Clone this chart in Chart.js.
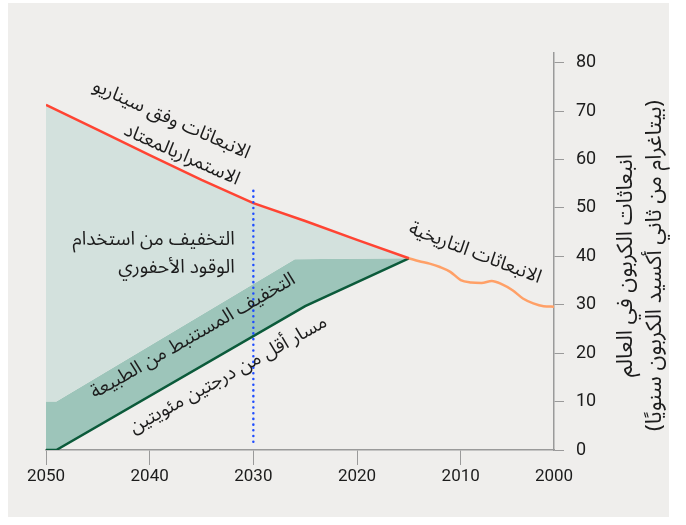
<!DOCTYPE html>
<html lang="ar">
<head>
<meta charset="utf-8">
<script src="https://cdn.jsdelivr.net/npm/chart.js@4.4.1/dist/chart.umd.min.js"></script>
<style>
  html, body { margin: 0; padding: 0; background: #fff; }
</style>
</head>
<body>
<canvas id="chart" width="686" height="525"></canvas>
<script>
// business-as-usual emissions (Gt CO2 / yr)
const bauYears = [2015, 2020, 2025, 2030, 2035, 2040, 2045, 2050];
const bauValues = [39.6, 43.4, 47.3, 51.0, 55.8, 60.9, 66.1, 71.3];

// historical emissions
const histYears = [2001, 2002, 2003, 2004, 2005, 2006, 2007, 2008, 2009, 2010, 2011, 2012, 2013, 2014, 2015];
const histValues = [29.6, 29.7, 30.3, 31.3, 33.0, 34.2, 34.9, 34.5, 34.6, 35.1, 36.8, 37.8, 38.5, 39.0, 39.6];

// top of the nature-based mitigation band
const natureYears = [2015, 2026, 2049, 2050];
const natureValues = [39.6, 39.4, 10, 10];

// below-2°C pathway
const pathYears = [2015, 2025, 2049, 2050];
const pathValues = [39.6, 29.7, 0, 0];

// 2030 marker
const markerYears = [2030, 2030];
const markerValues = [1.7, 53.6];

const xTickYears = [2050, 2040, 2030, 2020, 2010, 2001];
const xTickLabels = ["2050", "2040", "2030", "2020", "2010", "2000"];
const yTickValues = [0, 10, 20, 30, 40, 50, 60, 70, 80];

const yTitle = ["انبعاثات الكربون في العالم", "(بيتاغرام من ثاني أكسيد الكربون سنويًا)"];

const notes = [
  { text: "الانبعاثات وفق سيناريو", x: 2038.0, y: 67.8, angle: 24, align: "center" },
  { text: "الاستمراربالمعتاد", x: 2037.0, y: 60.5, angle: 24, align: "center" },
  { text: "التخفيف من استخدام", x: 2031.8, y: 42.9, angle: 0, align: "right" },
  { text: "الوقود الأحفوري", x: 2031.8, y: 37.2, angle: 0, align: "right" },
  { text: "التخفيف المستنبط من الطبيعة", x: 2035.7, y: 23.1, angle: -30, align: "center" },
  { text: "مسار أقل من درجتين مئويتين", x: 2032.3, y: 15.1, angle: -29, align: "center" },
  { text: "الانبعاثات التاريخية", x: 2008.7, y: 40.2, angle: 21, align: "center" }
];

const arabicFamily = '"Noto Sans Arabic", "Noto Sans Arabic UI", "Noto Kufi Arabic", "DejaVu Sans", sans-serif';
const pts = (xs, ys) => xs.map((x, i) => ({ x, y: ys[i] }));

const panelBg = {
  id: "panelBg",
  beforeDraw(chart) {
    const c = chart.ctx;
    c.save();
    c.fillStyle = "#efeeec";
    c.fillRect(8, 3, 661, 514);
    c.restore();
  }
};

const textLayer = {
  id: "textLayer",
  afterDraw(chart) {
    const c = chart.ctx;
    const xs = chart.scales.x, ys = chart.scales.y;
    c.save();
    c.fillStyle = "#1c1c1c";
    c.font = "19px " + arabicFamily;
    c.direction = "rtl";
    c.textBaseline = "middle";
    notes.forEach(n => {
      c.save();
      c.translate(xs.getPixelForValue(n.x), ys.getPixelForValue(n.y));
      c.rotate(n.angle * Math.PI / 180);
      c.textAlign = n.align;
      c.fillText(n.text, 0, 0);
      c.restore();
    });
    // y axis title, two lines read top to bottom
    c.font = "22px " + arabicFamily;
    c.textAlign = "center";
    const cy = (ys.top + ys.bottom) / 2 + 14;
    [629, 658].forEach((px, i) => {
      c.save();
      c.translate(px, cy);
      c.rotate(-Math.PI / 2);
      c.fillText(yTitle[i], 0, 0);
      c.restore();
    });
    c.restore();
  }
};

new Chart(document.getElementById("chart"), {
  type: "line",
  data: {
    datasets: [
      {
        label: "bau",
        data: pts(bauYears, bauValues),
        borderColor: "#ff4433",
        borderWidth: 2.5,
        backgroundColor: "#d3e1dd",
        fill: { target: 2 },
        order: 1
      },
      {
        label: "historical",
        data: pts(histYears, histValues),
        borderColor: "#ffa067",
        borderWidth: 2.5,
        cubicInterpolationMode: "monotone",
        fill: false,
        order: 2
      },
      {
        label: "nature",
        data: pts(natureYears, natureValues),
        borderWidth: 0,
        borderColor: "transparent",
        backgroundColor: "#9dc5ba",
        fill: { target: 3 },
        order: 4
      },
      {
        label: "path",
        data: pts(pathYears, pathValues),
        borderColor: "#0b5a3a",
        borderWidth: 2.5,
        fill: false,
        order: 3
      },
      {
        label: "2030",
        data: pts(markerYears, markerValues),
        borderColor: "#1f4dff",
        borderWidth: 2.5,
        borderDash: [0.1, 5.6],
        borderCapStyle: "round",
        fill: false,
        order: 0
      }
    ]
  },
  options: {
    responsive: false,
    animation: false,
    elements: { point: { radius: 0 }, line: { tension: 0 } },
    layout: { padding: { left: 46, top: 53, right: 0, bottom: 0 } },
    plugins: { legend: { display: false }, tooltip: { enabled: false } },
    scales: {
      x: {
        type: "linear",
        reverse: true,
        min: 2001,
        max: 2050,
        afterBuildTicks: s => { s.ticks = xTickYears.map(v => ({ value: v })); },
        afterFit: s => { s.height = 75; },
        ticks: {
          callback: (v, i) => xTickLabels[i],
          color: "#1c1c1c",
          font: { family: "Roboto", size: 17 },
          padding: 2,
          maxRotation: 0
        },
        grid: {
          drawOnChartArea: false,
          tickLength: 15,
          tickColor: ctx => (ctx.tick && ctx.tick.value === 2001) ? "transparent" : "#9a9a9a"
        },
        border: { color: "#9a9a9a", width: 1.5 }
      },
      y: {
        position: "right",
        min: 0,
        max: 82,
        afterBuildTicks: s => { s.ticks = yTickValues.map(v => ({ value: v })); },
        afterFit: s => { s.width = 132; },
        ticks: {
          color: "#1c1c1c",
          font: { family: "Roboto", size: 18 },
          padding: 12
        },
        grid: { drawOnChartArea: false, tickLength: 10, color: "#9a9a9a" },
        border: { color: "#9a9a9a", width: 1.5 }
      }
    }
  },
  plugins: [panelBg, textLayer]
});
</script>
</body>
</html>
